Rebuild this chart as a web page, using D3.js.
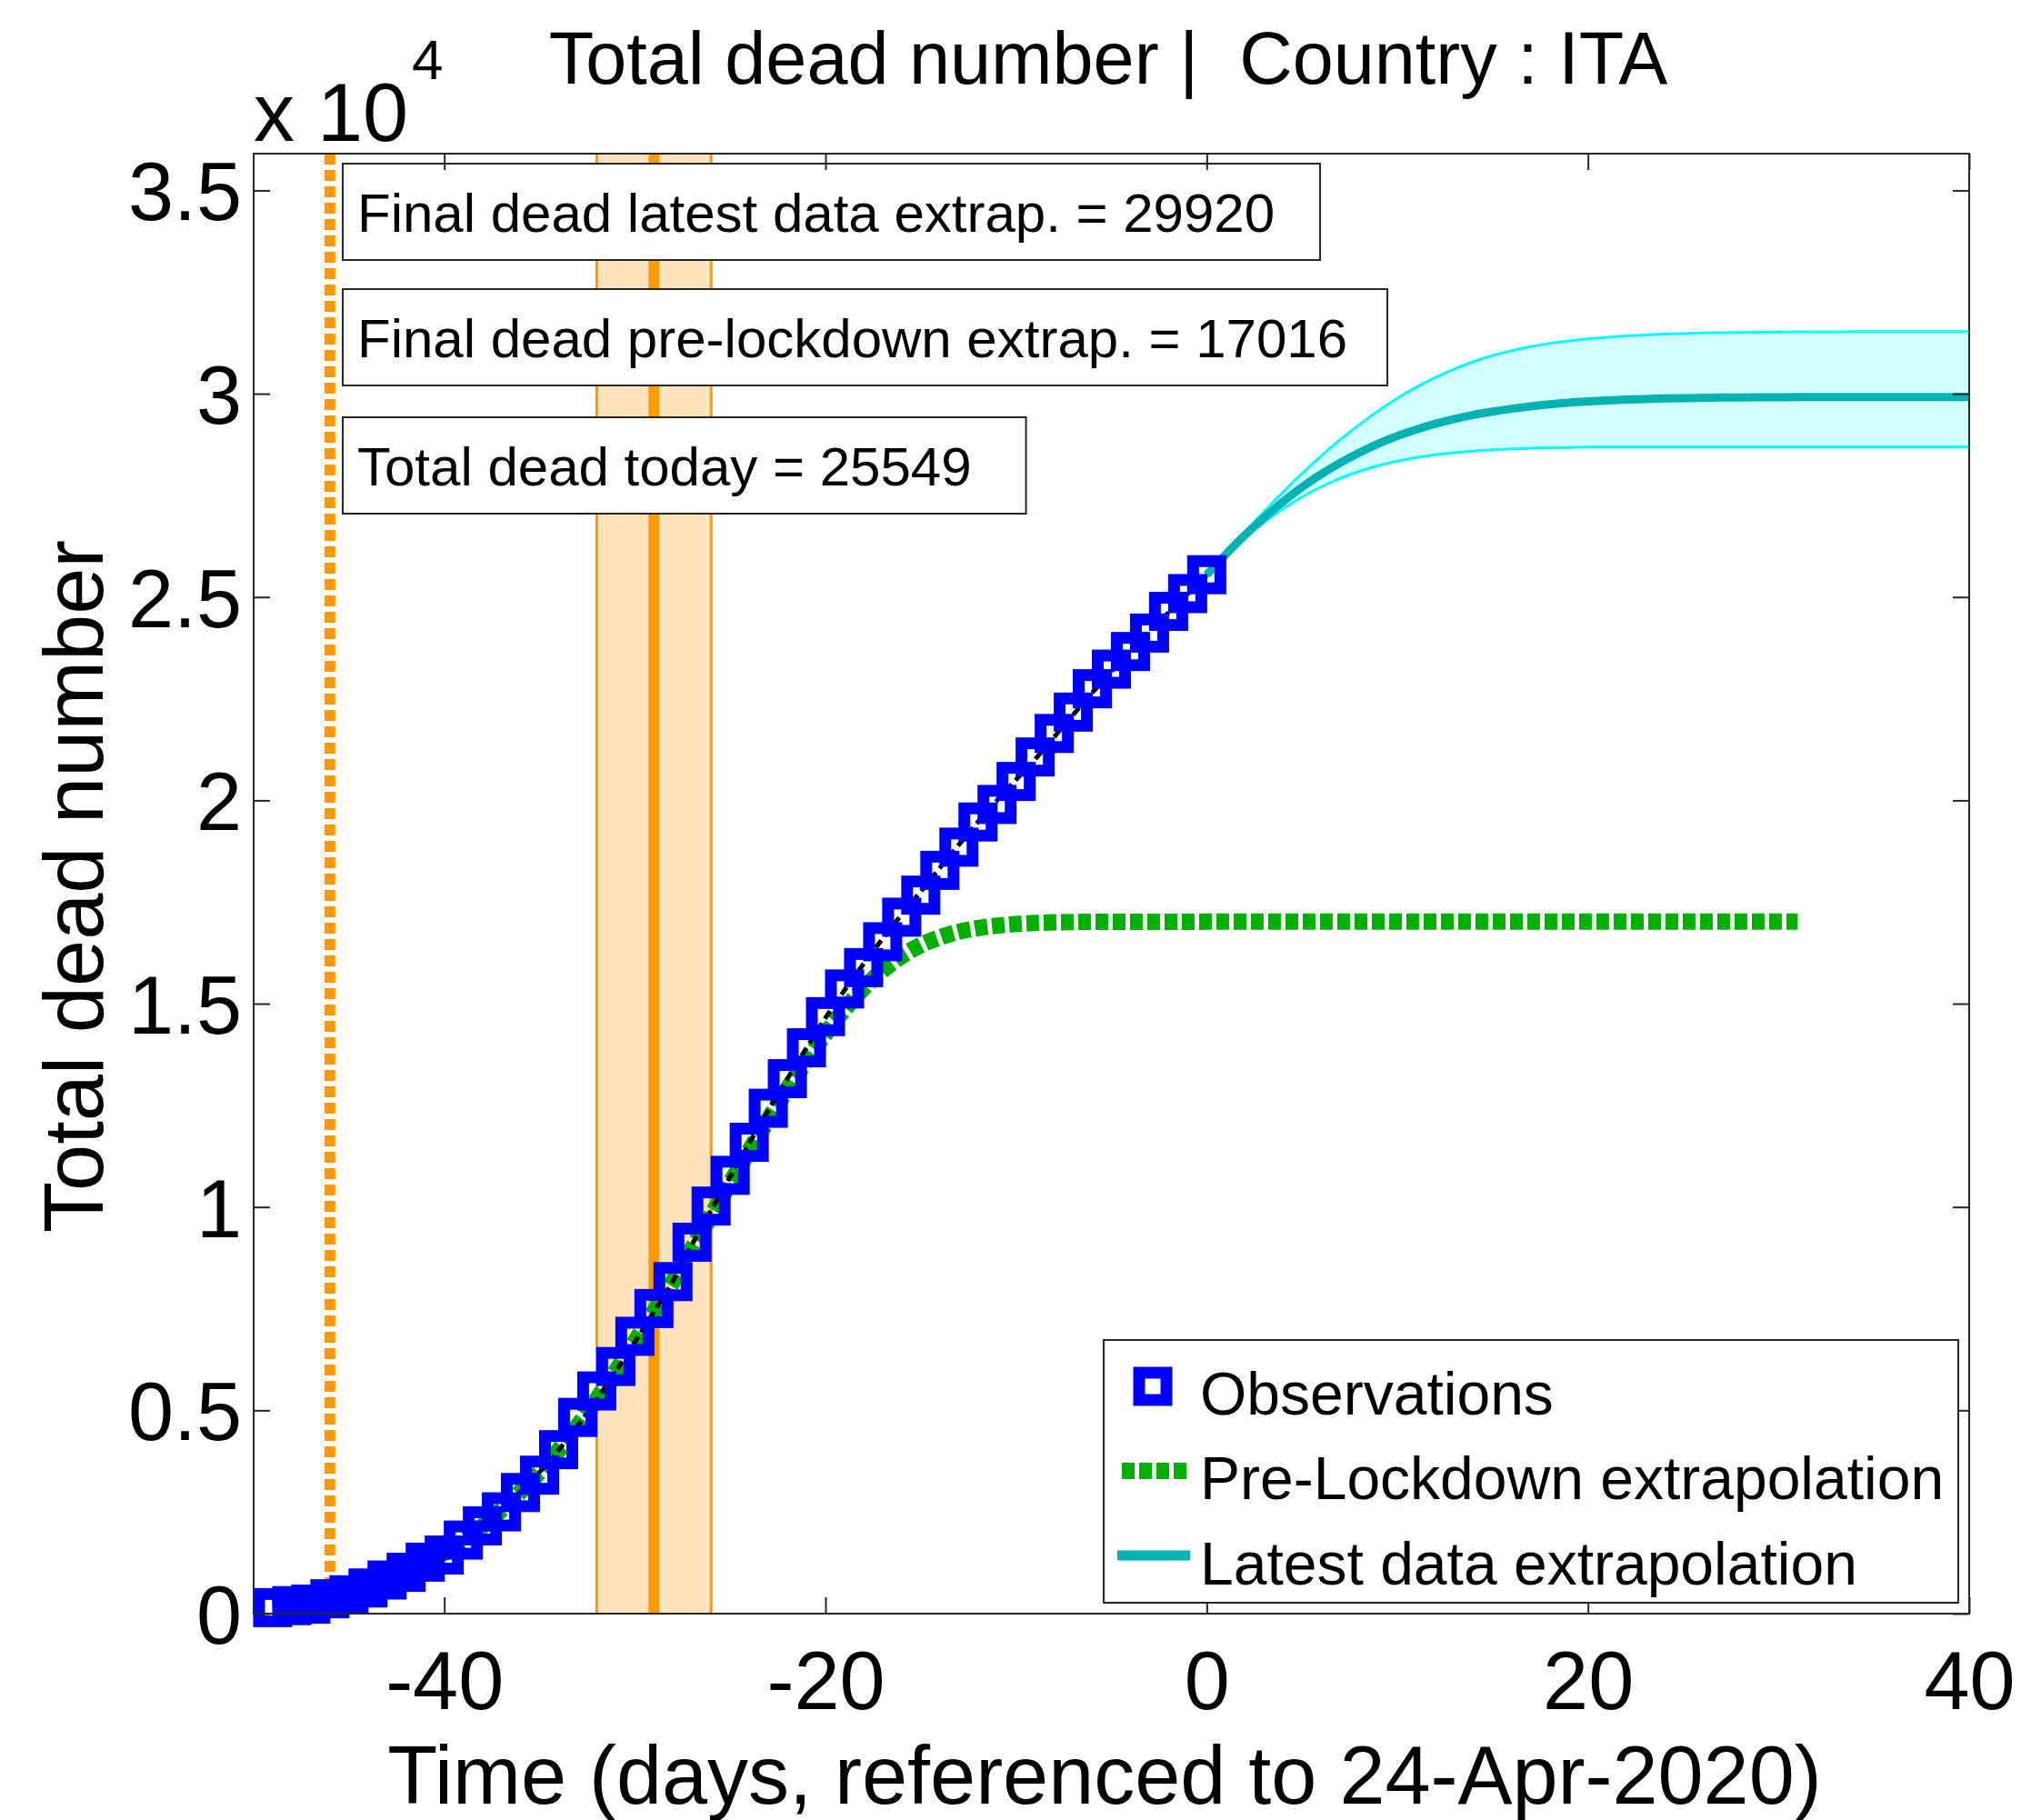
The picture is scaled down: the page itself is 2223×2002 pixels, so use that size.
<!DOCTYPE html>
<html><head><meta charset="utf-8">
<script src="https://cdn.jsdelivr.net/npm/d3@7"></script>
<style>
body{margin:0;background:#fff}
svg{display:block}
text{font-family:"Liberation Sans",Arial,Helvetica,sans-serif;fill:#000;white-space:pre}
</style>
</head><body>
<svg id="c" width="2223" height="2002"></svg>
<script>
// ---------------- DATA ----------------
const obsStartDay = -49;            // first observation (days before 24-Apr-2020)
const obsDeaths = [148,197,233,366,463,631,827,1016,1266,1441,1809,2158,2503,2978,3405,4032,4825,5476,6077,6820,7503,8165,9134,10023,10779,11591,12428,13155,13915,14681,15362,15887,16523,17127,17669,18279,18849,19468,19899,20465,21067,21645,22170,22745,23227,23660,24114,24648,25085,25549];
const fitDeaths = [150,200,265,350,465,615,800,1030,1250,1500,1800,2150,2550,3000,3480,4020,4620,5270,5960,6680,7420,8180,9080,9920,10750,11570,12370,13150,13910,14650,15330,15980,16600,17190,17760,18340,18910,19470,20000,20510,21010,21560,22110,22650,23170,23670,24150,24620,25080,25530];
const preStartDay = -49;
const preLockdown = [150,200,265,350,465,615,800,1030,1250,1500,1800,2150,2550,3000,3480,4020,4620,5270,5960,6680,7420,
  8170,8980,9790,10590,11380,12150,12900,13600,14260,14860,15380,15820,16170,16440,16630,16770,16860,16920,16960,16985,17000,17008,17012,17014,
  17015,17015,17015,17015,
  17016,17016,17016,17016,17016,17016,17016,17016,17016,17016,17016,17016,17016,17016,17016,17016,
  17016,17016,17016,17016,17016,17016,17016,17016,17016,17016,17016,17016,17016,17016,17016,17016];
const extStartDay = 0;
const latestCenter = [25549,26050,26520,26950,27340,27700,28020,28300,28550,28770,28960,29120,29260,29380,29480,29560,29630,29690,29740,29780,29810,29835,29855,29870,29882,29892,29899,29905,29909,29912,29914,29916,29917,29918,29918,29919,29919,29919,29920,29920,29920];
const latestUpper = [25549,26080,26600,27100,27580,28040,28470,28870,29240,29580,29890,30160,30400,30610,30790,30940,31060,31160,31240,31300,31350,31390,31420,31445,31465,31480,31492,31501,31508,31513,31517,31520,31522,31524,31525,31526,31527,31528,31528,31529,31529];
const latestLower = [25549,26020,26450,26830,27170,27460,27710,27920,28090,28230,28340,28430,28500,28550,28590,28620,28645,28660,28672,28680,28686,28689,28690,28690,28690,28690,28690,28690,28690,28690,28690,28690,28690,28690,28690,28690,28690,28690,28690,28690,28690];
const firstDeathDay = -46;
const lockdownDay = -29;
const lockdownBand = [-32, -26];
const xTicks = [-40,-20,0,20,40];
const yTicks = [0,5000,10000,15000,20000,25000,30000,35000];
const xDomain = [-50, 40];
const yDomain = [0, 35904];
const infoLines = ["Final dead latest data extrap. = 29920","Final dead pre-lockdown extrap. = 17016","Total dead today = 25549"];
const legendLabels = ["Observations","Pre-Lockdown extrapolation","Latest data extrapolation"];
const titleText = "Total dead number |  Country : ITA";
const xLabel = "Time (days, referenced to 24-Apr-2020)";
const yLabel = "Total dead number";

// ---------------- STYLE ----------------
const C = {axis:"#262626", blue:"#0000FF", green:"#00B000", teal:"#00B2B2", cyan:"#00FFFF", cyanFill:"#D2FFFF",
           orange:"#FF9900", orangeFill:"#FFE3BD"};

const svg = d3.select("#c");
const x = d3.scaleLinear().domain(xDomain).range([279, 2166]);
const y = d3.scaleLinear().domain(yDomain).range([1775, 169]);
const X0 = x.range()[0], X1 = x.range()[1], Y0 = y.range()[0], Y1 = y.range()[1];

svg.append("defs").append("clipPath").attr("id","pc").append("rect")
  .attr("x",X0).attr("y",Y1).attr("width",X1-X0).attr("height",Y0-Y1);

const plot = svg.append("g").attr("clip-path","url(#pc)");

// lockdown band
plot.append("rect").attr("x",x(lockdownBand[0])).attr("y",Y1-5)
  .attr("width",x(lockdownBand[1])-x(lockdownBand[0])).attr("height",Y0-Y1+10)
  .attr("fill",C.orangeFill).attr("stroke",C.orange).attr("stroke-width",3);
plot.append("line").attr("x1",x(lockdownDay)).attr("x2",x(lockdownDay)).attr("y1",Y0).attr("y2",Y1)
  .attr("stroke",C.orange).attr("stroke-width",12);
plot.append("line").attr("x1",x(firstDeathDay)).attr("x2",x(firstDeathDay)).attr("y1",Y1).attr("y2",Y0)
  .attr("stroke",C.orange).attr("stroke-width",12).attr("stroke-dasharray","12 6");

// latest data extrapolation
const ext = latestCenter.map((v,i)=>({d:extStartDay+i, c:v, u:latestUpper[i], l:latestLower[i]}));
plot.append("path").datum(ext)
  .attr("d", d3.area().x(p=>x(p.d)).y0(p=>y(p.l)).y1(p=>y(p.u)).curve(d3.curveMonotoneX))
  .attr("fill",C.cyanFill);
["u","l"].forEach(k=>{
  plot.append("path").datum(ext)
    .attr("d", d3.line().x(p=>x(p.d)).y(p=>y(p[k])).curve(d3.curveMonotoneX))
    .attr("fill","none").attr("stroke",C.cyan).attr("stroke-width",3);
});
plot.append("path").datum(ext)
  .attr("d", d3.line().x(p=>x(p.d)).y(p=>y(p.c)).curve(d3.curveMonotoneX))
  .attr("fill","none").attr("stroke",C.teal).attr("stroke-width",9);

// pre-lockdown extrapolation
const pre = preLockdown.map((v,i)=>({d:preStartDay+i, v}));
plot.append("path").datum(pre)
  .attr("d", d3.line().x(p=>x(p.d)).y(p=>y(p.v)).curve(d3.curveMonotoneX))
  .attr("fill","none").attr("stroke",C.green).attr("stroke-width",18).attr("stroke-dasharray","14 5");

// observations (markers not clipped)
const obs = obsDeaths.map((v,i)=>({d:obsStartDay+i, v}));
const MS = 30;
svg.append("g").selectAll("rect").data(obs).join("rect")
  .attr("x",p=>x(p.d)-MS/2).attr("y",p=>y(p.v)-MS/2).attr("width",MS).attr("height",MS)
  .attr("fill","none").attr("stroke",C.blue).attr("stroke-width",13);

// fit line
const fit = fitDeaths.map((v,i)=>({d:obsStartDay+i, v}));
plot.append("path").datum(fit)
  .attr("d", d3.line().x(p=>x(p.d)).y(p=>y(p.v)).curve(d3.curveMonotoneX))
  .attr("fill","none").attr("stroke","#000").attr("stroke-width",5).attr("stroke-dasharray","10 6");

// info boxes
const boxBase = [255, 393, 534];
const boxRightPad = [50, 44, 60];
infoLines.forEach((t,i)=>{
  const g = svg.append("g");
  const r = g.append("rect");
  const tx = g.append("text").attr("x",393).attr("y",boxBase[i]).attr("font-size",60).text(t);
  const w = tx.node().getComputedTextLength();
  r.attr("x",377).attr("y",boxBase[i]-75).attr("width",w+16+boxRightPad[i]).attr("height",106)
   .attr("fill","#fff").attr("stroke",C.axis).attr("stroke-width",2);
});

// axes frame + ticks
svg.append("rect").attr("x",X0).attr("y",Y1).attr("width",X1-X0).attr("height",Y0-Y1)
  .attr("fill","none").attr("stroke",C.axis).attr("stroke-width",2);
function styleAxis(g, labels){
  g.select(".domain").remove();
  g.selectAll(".tick line").attr("stroke",C.axis).attr("stroke-width",2);
  if(!labels) g.selectAll(".tick text").remove();
}
const gB = svg.append("g").attr("transform",`translate(0,${Y0})`)
  .call(d3.axisBottom(x).tickValues(xTicks).tickSize(-18).tickFormat(d=>String(d)));
styleAxis(gB,true);
gB.selectAll(".tick text").attr("dy",null).attr("y",105).attr("font-size",90).attr("fill","#000")
  .attr("font-family",null);
const gT = svg.append("g").attr("transform",`translate(0,${Y1})`)
  .call(d3.axisTop(x).tickValues(xTicks).tickSize(-18));
styleAxis(gT,false);
const gL = svg.append("g").attr("transform",`translate(${X0},0)`)
  .call(d3.axisLeft(y).tickValues(yTicks).tickSize(-18).tickFormat(d=>String(d/1e4)));
styleAxis(gL,true);
gL.selectAll(".tick text").attr("x",-13).attr("dy","0.36em").attr("font-size",90).attr("fill","#000")
  .attr("font-family",null);
const gR = svg.append("g").attr("transform",`translate(${X1},0)`)
  .call(d3.axisRight(y).tickValues(yTicks).tickSize(-18));
styleAxis(gR,false);

// legend
const leg = svg.append("g");
leg.append("rect").attr("x",1214).attr("y",1474).attr("width",940).attr("height",289)
  .attr("fill","#fff").attr("stroke",C.axis).attr("stroke-width",2);
const legBase = [1556, 1649, 1743];
leg.append("rect").attr("x",1268-MS/2).attr("y",legBase[0]-31-MS/2).attr("width",MS).attr("height",MS)
  .attr("fill","none").attr("stroke",C.blue).attr("stroke-width",13);
leg.append("line").attr("x1",1234).attr("x2",1308).attr("y1",legBase[1]-31).attr("y2",legBase[1]-31)
  .attr("stroke",C.green).attr("stroke-width",18).attr("stroke-dasharray","14 5");
leg.append("line").attr("x1",1229).attr("x2",1309).attr("y1",legBase[2]-32).attr("y2",legBase[2]-32)
  .attr("stroke",C.teal).attr("stroke-width",11);
legendLabels.forEach((t,i)=>{
  leg.append("text").attr("x",1320).attr("y",legBase[i]).attr("font-size",66).text(t);
});

// titles
svg.append("text").attr("x",1219).attr("y",92).attr("text-anchor","middle").attr("font-size",81).text(titleText);
svg.append("text").attr("x",1215).attr("y",1984).attr("text-anchor","middle").attr("font-size",90).text(xLabel);
svg.append("text").attr("transform","translate(113,975) rotate(-90)").attr("text-anchor","middle").attr("font-size",92).text(yLabel);
svg.append("text").attr("x",279).attr("y",155).attr("font-size",90).text("x 10");
svg.append("text").attr("x",453).attr("y",87).attr("font-size",62).text("4");
</script>
</body></html>
